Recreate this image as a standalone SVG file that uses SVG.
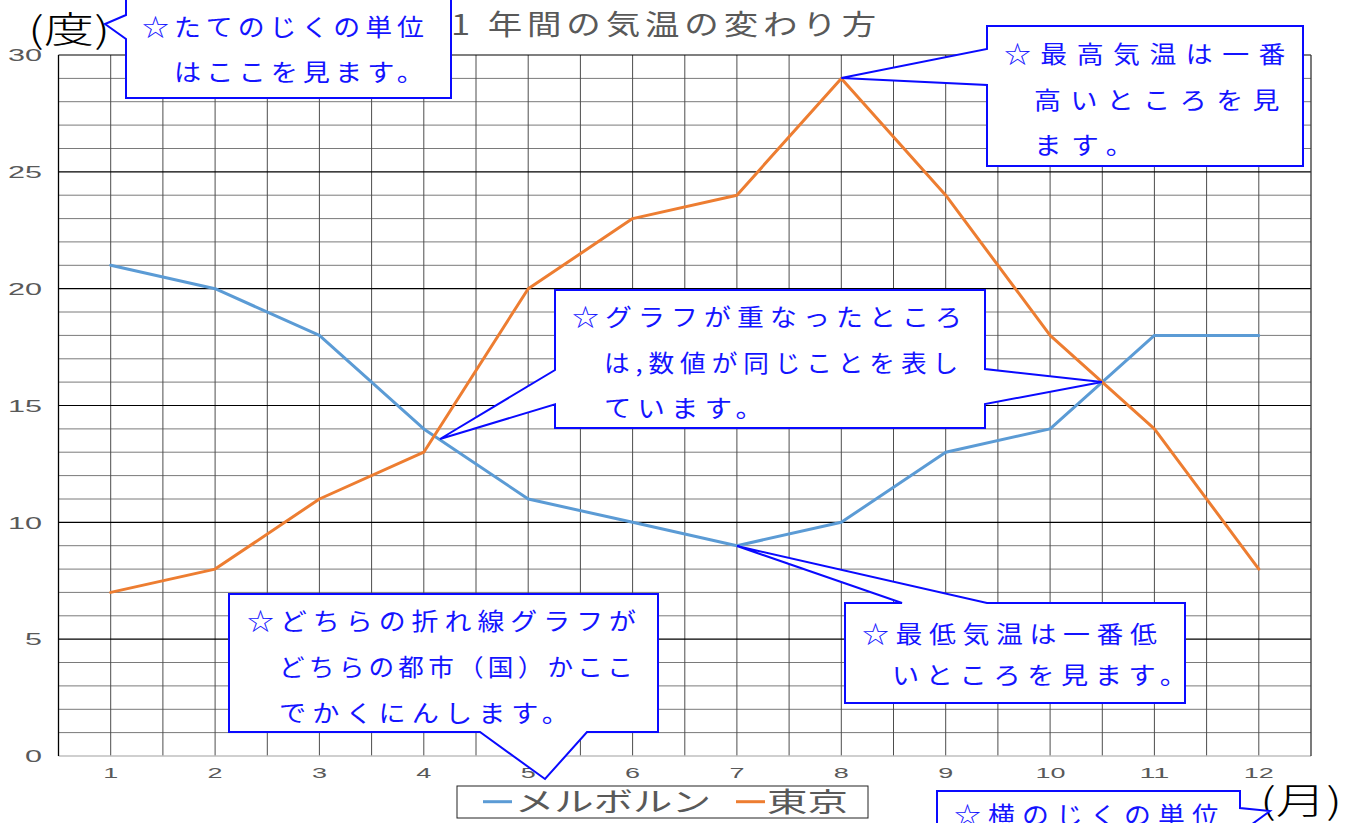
<svg xmlns="http://www.w3.org/2000/svg" width="1355" height="823" viewBox="0 0 1355 823">
<style>
.minor{stroke:#7a7a7a;stroke-width:1;fill:none}
.major{stroke:#000;stroke-width:1.2;fill:none}
.vert{stroke:#4d4d4d;stroke-width:1;fill:none}
.ax{font-family:"Liberation Sans","DejaVu Sans",sans-serif;fill:#595959;font-size:17px}
.axx{font-family:"Liberation Sans","DejaVu Sans",sans-serif;fill:#595959;font-size:15px}
.co{fill:#fff;stroke:#0a0aff;stroke-width:2;stroke-linejoin:miter}
.ct{font-family:"Noto Sans CJK JP",sans-serif;font-size:24px;fill:#1414ff}
.ser{fill:none;stroke-width:3;stroke-linejoin:round;stroke-linecap:round}
.unit{font-family:"Noto Sans CJK JP",sans-serif;font-size:36px;font-weight:300;fill:#000}
.gt{font-family:"Noto Sans CJK JP",sans-serif;fill:#595959}
</style>
<rect width="1355" height="823" fill="#fff"/>

<g id="grid">
<path class="minor" d="M58.5,732.6H1311M58.5,709.3H1311M58.5,685.9H1311M58.5,662.5H1311M58.5,615.8H1311M58.5,592.4H1311M58.5,569.1H1311M58.5,545.7H1311M58.5,499H1311M58.5,475.6H1311M58.5,452.2H1311M58.5,428.9H1311M58.5,382.1H1311M58.5,358.8H1311M58.5,335.4H1311M58.5,312H1311M58.5,265.3H1311M58.5,241.9H1311M58.5,218.6H1311M58.5,195.2H1311M58.5,148.5H1311M58.5,125.1H1311M58.5,101.7H1311M58.5,78.4H1311"/>
<path class="vert" d="M110.7,55V756M162.9,55V756M215.1,55V756M267.3,55V756M319.4,55V756M371.6,55V756M423.8,55V756M476,55V756M528.2,55V756M580.4,55V756M632.6,55V756M684.8,55V756M736.9,55V756M789.1,55V756M841.3,55V756M893.5,55V756M945.7,55V756M997.9,55V756M1050.1,55V756M1102.3,55V756M1154.4,55V756M1206.6,55V756M1258.8,55V756"/>
<path class="major" d="M58.5,639.2H1311M58.5,522.3H1311M58.5,405.5H1311M58.5,288.7H1311M58.5,171.8H1311M58.5,55H1311"/>
<path d="M58.5,756H1311" stroke="#bfbfbf" stroke-width="1.5"/>
<path d="M58.5,55V756" stroke="#000" stroke-width="1.3"/>
<path d="M1311,55V756" stroke="#333" stroke-width="1.3"/>
</g>

<g id="axis-labels">
<text class="ax" x="8" y="61" textLength="34" lengthAdjust="spacingAndGlyphs">30</text>
<text class="ax" x="8" y="178" textLength="34" lengthAdjust="spacingAndGlyphs">25</text>
<text class="ax" x="8" y="295" textLength="34" lengthAdjust="spacingAndGlyphs">20</text>
<text class="ax" x="8" y="411.5" textLength="34" lengthAdjust="spacingAndGlyphs">15</text>
<text class="ax" x="8" y="528.5" textLength="34" lengthAdjust="spacingAndGlyphs">10</text>
<text class="ax" x="25" y="645" textLength="17" lengthAdjust="spacingAndGlyphs">5</text>
<text class="ax" x="25" y="762" textLength="17" lengthAdjust="spacingAndGlyphs">0</text>
<text class="axx" x="103.2" y="778" textLength="15" lengthAdjust="spacingAndGlyphs">1</text>
<text class="axx" x="207.6" y="778" textLength="15" lengthAdjust="spacingAndGlyphs">2</text>
<text class="axx" x="311.9" y="778" textLength="15" lengthAdjust="spacingAndGlyphs">3</text>
<text class="axx" x="416.3" y="778" textLength="15" lengthAdjust="spacingAndGlyphs">4</text>
<text class="axx" x="520.7" y="778" textLength="15" lengthAdjust="spacingAndGlyphs">5</text>
<text class="axx" x="625.1" y="778" textLength="15" lengthAdjust="spacingAndGlyphs">6</text>
<text class="axx" x="729.4" y="778" textLength="15" lengthAdjust="spacingAndGlyphs">7</text>
<text class="axx" x="833.8" y="778" textLength="15" lengthAdjust="spacingAndGlyphs">8</text>
<text class="axx" x="938.2" y="778" textLength="15" lengthAdjust="spacingAndGlyphs">9</text>
<text class="axx" x="1035.6" y="778" textLength="30" lengthAdjust="spacingAndGlyphs">10</text>
<text class="axx" x="1139.4" y="778" textLength="30" lengthAdjust="spacingAndGlyphs">11</text>
<text class="axx" x="1243.8" y="778" textLength="30" lengthAdjust="spacingAndGlyphs">12</text>
</g>

<g id="title">
<text class="gt" x="451" y="35" font-size="28" letter-spacing="4" textLength="430" lengthAdjust="spacingAndGlyphs">1 年間の気温の変わり方</text>
</g>

<g id="unit-y">
<text class="unit" x="28" y="42.5" textLength="82" lengthAdjust="spacingAndGlyphs">(度)</text>
</g>
<g id="unit-x">
<text class="unit" x="1260" y="814" textLength="82" lengthAdjust="spacingAndGlyphs">(月)</text>
</g>

<g id="connectors">
<polyline id="melbourne" class="ser" stroke="#5b9bd5" points="110.7,265.3 215.1,288.7 319.4,335.4 423.8,428.9 528.2,499 632.6,522.3 736.9,545.7 841.3,522.3 945.7,452.2 1050.1,428.9 1154.4,335.4 1258.8,335.4"/>
<polyline id="tokyo" class="ser" stroke="#ed7d31" points="110.7,592.4 215.1,569.1 319.4,499 423.8,452.2 528.2,288.7 632.6,218.6 736.9,195.2 841.3,78.4 945.7,195.2 1050.1,335.4 1154.4,428.9 1258.8,569.1"/>
</g>

<g id="callout-yunit">
<path class="co" d="M126,-10H451V98H126V39L105,24L126,15Z"/>
<text class="ct" x="142" y="36" letter-spacing="4.5" textLength="287" lengthAdjust="spacingAndGlyphs">☆たてのじくの単位</text>
<text class="ct" x="174" y="81" letter-spacing="4.5" textLength="255" lengthAdjust="spacingAndGlyphs">はここを見ます。</text>
</g>

<g id="callout-max">
<path class="co" d="M987,26H1303V166H987V85L841.3,78L987,49Z"/>
<text class="ct" x="1004" y="62.5" letter-spacing="8.5" textLength="291" lengthAdjust="spacingAndGlyphs">☆最高気温は一番</text>
<text class="ct" x="1034" y="109" letter-spacing="8.5" textLength="255" lengthAdjust="spacingAndGlyphs">高いところを見</text>
<text class="ct" x="1034" y="154" letter-spacing="8.5" textLength="109" lengthAdjust="spacingAndGlyphs">ます。</text>
</g>

<g id="callout-cross">
<path class="co" d="M555,290H985V369L1102,382L985,404V428H555V404.3L440,439L555,370Z"/>
<text class="ct" x="572" y="326" letter-spacing="5.5" textLength="396" lengthAdjust="spacingAndGlyphs">☆グラフが重なったところ</text>
<text class="ct" x="604" y="372" letter-spacing="5.5" textLength="360" lengthAdjust="spacingAndGlyphs">は,数値が同じことを表し</text>
<text class="ct" x="604" y="417" letter-spacing="5.5" textLength="165" lengthAdjust="spacingAndGlyphs">ています。</text>
</g>

<g id="callout-legend">
<path class="co" d="M229,594H658V732H587L545,779L480,732H229Z"/>
<text class="ct" x="247" y="630" letter-spacing="5.4" textLength="395" lengthAdjust="spacingAndGlyphs">☆どちらの折れ線グラフが</text>
<text class="ct" x="279" y="676" letter-spacing="4" textLength="358" lengthAdjust="spacingAndGlyphs">どちらの都市（国）かここ</text>
<text class="ct" x="279" y="722" letter-spacing="5.4" textLength="296" lengthAdjust="spacingAndGlyphs">でかくにんします。</text>
</g>

<g id="callout-min">
<path class="co" d="M845,603H902L737,546L987,603H1185V703H845Z"/>
<text class="ct" x="862" y="642.5" letter-spacing="5.9" textLength="301.5" lengthAdjust="spacingAndGlyphs">☆最低気温は一番低</text>
<text class="ct" x="892" y="684" letter-spacing="5.9" textLength="301.5" lengthAdjust="spacingAndGlyphs">いところを見ます。</text>
</g>

<g id="callout-xunit">
<path class="co" d="M937,850V791H1240V808L1270,811L1240,833V850Z"/>
<text class="ct" x="954" y="824" letter-spacing="6.4" textLength="272" lengthAdjust="spacingAndGlyphs">☆横のじくの単位</text>
</g>

<g id="legend">
<rect x="457" y="786" width="411" height="32" fill="#fff" stroke="#222" stroke-width="1"/>
<line x1="483" y1="801.7" x2="512" y2="801.7" stroke="#5b9bd5" stroke-width="3"/>
<text class="gt" x="515" y="812" font-size="27" textLength="196" lengthAdjust="spacingAndGlyphs">メルボルン</text>
<line x1="736" y1="801.7" x2="765" y2="801.7" stroke="#ed7d31" stroke-width="3"/>
<text class="gt" x="767" y="812" font-size="27" textLength="81" lengthAdjust="spacingAndGlyphs">東京</text>
</g>
</svg>
